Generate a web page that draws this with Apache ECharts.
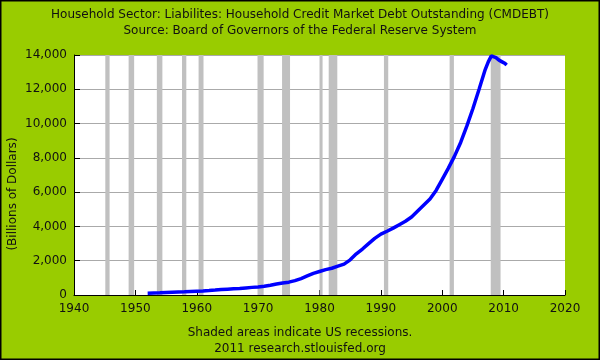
<!DOCTYPE html>
<html>
<head>
<meta charset="utf-8">
<style>html,body{margin:0;padding:0;background:#99cc00;}#c{width:600px;height:360px;}</style>
<script src="https://cdn.jsdelivr.net/npm/echarts@6/dist/echarts.min.js"></script>
</head>
<body>
<div id="c"></div>
<script>
var titleLines = ["Household Sector: Liabilites: Household Credit Market Debt Outstanding (CMDEBT)",
                  "Source: Board of Governors of the Federal Reserve System"];
var footerLines = ["Shaded areas indicate US recessions.", "2011 research.stlouisfed.org"];
var yAxisName = "(Billions of Dollars)";

var years = [1952,1953,1954,1955,1956,1957,1958,1959,1960,1961,1962,1963,1964,1965,1966,1967,1968,1969,
  1970,1971,1972,1973,1974,1975,1976,1977,1978,1979,1980,1981,1982,1983,1984,1985,1986,1987,1988,1989,
  1990,1991,1992,1993,1994,1995,1996,1997,1998,1999,2000,2001,2002,2003,2004,2005,2006,2007,2007.5,
  2008,2008.25,2008.75,2009.25,2009.75,2010.25,2010.5];
var debt = [100,115,125,145,160,175,185,205,225,240,260,285,315,340,365,385,415,445,
  470,510,570,640,700,750,840,960,1110,1260,1370,1480,1560,1680,1800,2050,2400,2680,3000,3300,
  3550,3720,3900,4100,4300,4550,4900,5250,5600,6100,6750,7400,8100,8900,9850,10880,12000,13150,13600,
  13950,14000,13850,13700,13600,13500,13420];

var recessionStart = [1945.1,1948.9,1953.5,1957.6,1960.3,1969.9,1973.9,1980.0,1981.5,1990.5,2001.2,2007.9];
var recessionEnd   = [1945.8,1949.8,1954.4,1958.3,1961.1,1970.9,1975.2,1980.5,1982.9,1991.2,2001.9,2009.5];

var xTicks = {min:1940, max:2020, interval:10};
var yTicks = {min:0, max:14000, interval:2000};

var lineData = years.map(function(y,i){return [y, debt[i]];});
var bands = recessionStart.map(function(s,i){return [{xAxis:s},{xAxis:recessionEnd[i]}];});

var font = "DejaVu Sans";
var chart = echarts.init(document.getElementById('c'), null, {renderer:'canvas'});
chart.setOption({
  backgroundColor:'#99cc00',
  animation:false,
  textStyle:{fontFamily:font},
  grid:{left:74, right:35, top:55, bottom:65, show:true, backgroundColor:'#ffffff', borderWidth:0},
  xAxis:{type:'value', min:xTicks.min, max:xTicks.max, interval:xTicks.interval,
    axisLine:{show:true, lineStyle:{color:'#000', width:1}},
    axisTick:{show:true, inside:true, length:5, lineStyle:{color:'#000'}},
    axisLabel:{color:'#111', fontSize:12, fontFamily:font, margin:8,
      formatter:function(v){return String(v);}},
    splitLine:{show:false}},
  yAxis:{type:'value', min:yTicks.min, max:yTicks.max, interval:yTicks.interval,
    axisLine:{show:true, lineStyle:{color:'#000', width:1}},
    axisTick:{show:true, inside:true, length:6, lineStyle:{color:'#000'}},
    axisLabel:{color:'#111', fontSize:12, fontFamily:font, margin:7,
      formatter:function(v){return v.toString().replace(/\B(?=(\d{3})+(?!\d))/g, ',');}},
    splitLine:{show:true, lineStyle:{color:'#aaaaaa', width:1}}},
  series:[
    {type:'line', data:[], z:1, silent:true,
     markArea:{silent:true, itemStyle:{color:'#c0c0c0'}, data:bands}},
    {type:'line', data:lineData, z:3, showSymbol:false, symbol:'none',
     lineStyle:{color:'#0000ff', width:3.5}}
  ],
  graphic:[
    {type:'text', left:'center', top:9, style:{text:titleLines[0], fill:'#111', font:'12px "DejaVu Sans"'}},
    {type:'text', left:'center', top:25, style:{text:titleLines[1], fill:'#111', font:'12px "DejaVu Sans"'}},
    {type:'text', left:'center', top:327, style:{text:footerLines[0], fill:'#111', font:'12px "DejaVu Sans"'}},
    {type:'text', left:'center', top:343, style:{text:footerLines[1], fill:'#111', font:'12px "DejaVu Sans"'}},
    {type:'text', x:13, y:194, rotation:Math.PI/2, style:{text:yAxisName, fill:'#111', font:'12px "DejaVu Sans"', align:'center', verticalAlign:'middle'}},
    {type:'rect', shape:{x:0.5, y:0.5, width:599, height:359}, style:{fill:null, stroke:'#000', lineWidth:2}, z:100}
  ]
});
</script>
</body>
</html>
